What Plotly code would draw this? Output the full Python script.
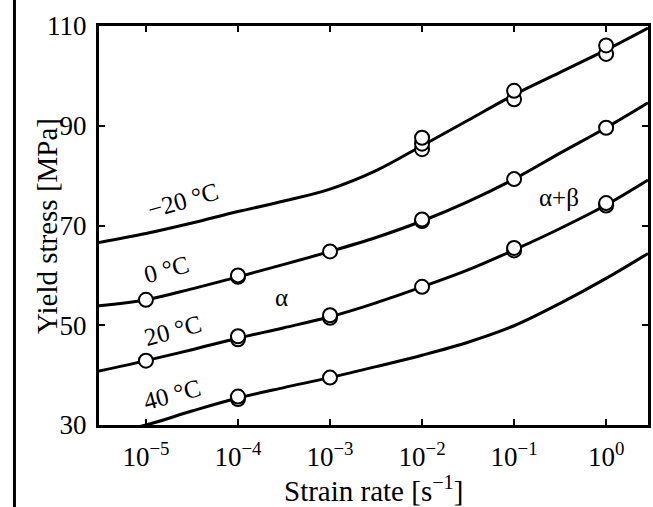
import plotly.graph_objects as go

# Fitted curves: log10(strain rate) and yield stress [MPa]
curve_logx = [-5.51, -5.0, -4.5, -4.0, -3.5, -3.0, -2.5, -2.0, -1.5, -1.0, -0.5, 0.0, 0.455]
curve_m20 = [66.6, 68.4, 70.5, 72.8, 74.9, 77.3, 81.0, 86.0, 91.1, 96.2, 100.7, 105.2, 109.6]
curve_0 = [53.9, 55.1, 57.3, 59.7, 62.2, 64.8, 67.6, 70.9, 74.8, 79.3, 84.5, 89.6, 94.6]
curve_20 = [40.8, 42.9, 45.1, 47.4, 49.5, 51.7, 54.5, 57.7, 61.1, 65.1, 69.4, 74.1, 79.1]
curve_40 = [28.0, 30.0, 32.8, 35.4, 37.5, 39.5, 41.7, 44.0, 46.6, 49.9, 54.4, 59.4, 64.4]

# Measured points
pts_m20_x = [1e-2, 1e-2, 1e-2, 1e-1, 1e-1, 1e0, 1e0]
pts_m20_y = [85.3, 86.4, 87.6, 95.3, 97.0, 104.4, 106.1]
pts_0_x = [1e-5, 1e-4, 1e-4, 1e-3, 1e-2, 1e-2, 1e-1, 1e0]
pts_0_y = [55.1, 59.7, 60.0, 64.8, 70.9, 71.2, 79.3, 89.6]
pts_20_x = [1e-5, 1e-4, 1e-4, 1e-3, 1e-3, 1e-2, 1e-1, 1e-1, 1e0, 1e0]
pts_20_y = [42.9, 47.2, 47.8, 51.5, 52.0, 57.7, 65.0, 65.5, 74.0, 74.5]
pts_40_x = [1e-4, 1e-4, 1e-3]
pts_40_y = [35.2, 35.7, 39.5]

x_tickvals = [1e-5, 1e-4, 1e-3, 1e-2, 1e-1, 1e0]
x_ticktext = ["10<sup>\u22125</sup>", "10<sup>\u22124</sup>", "10<sup>\u22123</sup>",
              "10<sup>\u22122</sup>", "10<sup>\u22121</sup>", "10<sup>0</sup>"]
y_tickvals = [30, 50, 70, 90, 110]

FONT = "Liberation Serif"
fig = go.Figure()

curve_x = [10 ** v for v in curve_logx]
for cy in [curve_m20, curve_0, curve_20, curve_40]:
    fig.add_trace(go.Scatter(x=curve_x, y=cy, mode="lines",
                             line=dict(color="black", width=3, shape="spline", smoothing=1.0),
                             showlegend=False, hoverinfo="skip"))

for px, py in [(pts_m20_x, pts_m20_y), (pts_0_x, pts_0_y), (pts_20_x, pts_20_y), (pts_40_x, pts_40_y)]:
    fig.add_trace(go.Scatter(x=px, y=py, mode="markers",
                             marker=dict(symbol="circle", size=14, color="white",
                                         line=dict(color="black", width=2)),
                             showlegend=False, cliponaxis=False))

labels = [
    ("\u221220 \u00b0C", -4.60, 75.1, -16),
    ("0 \u00b0C", -4.78, 61.1, -15),
    ("20 \u00b0C", -4.71, 48.9, -15),
    ("40 \u00b0C", -4.72, 36.2, -15),
    ("\u03b1", -3.53, 55.5, 0),
    ("\u03b1+\u03b2", -0.51, 75.7, 0),
]
for t, lx, ly, ang in labels:
    fig.add_annotation(x=lx, y=ly, xref="x", yref="y", text=t, showarrow=False,
                       textangle=ang, font=dict(family=FONT, size=25, color="black"))

# axis titles
fig.add_annotation(x=(28 - 99) / 552, y=0.5, xref="paper", yref="paper",
                   text="Yield stress [MPa]", textangle=-90, showarrow=False,
                   font=dict(family=FONT, size=29, color="black"))
fig.add_annotation(x=0.5, y=-(507 - 425) / 399, xref="paper", yref="paper",
                   xanchor="center", yanchor="bottom", yshift=-2,
                   text="Strain rate [s<sup>\u22121</sup>]", showarrow=False,
                   font=dict(family=FONT, size=29, color="black"))

# page border line on the left
fig.add_shape(type="line", xref="paper", yref="paper",
              x0=(14 - 99) / 552, x1=(14 - 99) / 552, y0=-82 / 399, y1=1 + 26 / 399,
              line=dict(color="black", width=3))

fig.update_xaxes(type="log", range=[-5.51, 0.455], tickvals=x_tickvals, ticktext=x_ticktext,
                 ticks="inside", ticklen=6, tickwidth=2, tickcolor="black",
                 showline=True, linecolor="black", linewidth=3, mirror="ticks",
                 showgrid=False, zeroline=False, ticklabelstandoff=6,
                 tickfont=dict(family=FONT, size=27, color="black"))
fig.update_yaxes(range=[30, 110], tickvals=y_tickvals,
                 ticks="inside", ticklen=6, tickwidth=2, tickcolor="black",
                 showline=True, linecolor="black", linewidth=3, mirror="ticks",
                 showgrid=False, zeroline=False, ticklabelstandoff=4,
                 tickfont=dict(family=FONT, size=27, color="black"))

fig.update_layout(width=653, height=507, margin=dict(l=99, r=2, t=26, b=82),
                  paper_bgcolor="white", plot_bgcolor="white", showlegend=False)

fig.write_html("out.html")
